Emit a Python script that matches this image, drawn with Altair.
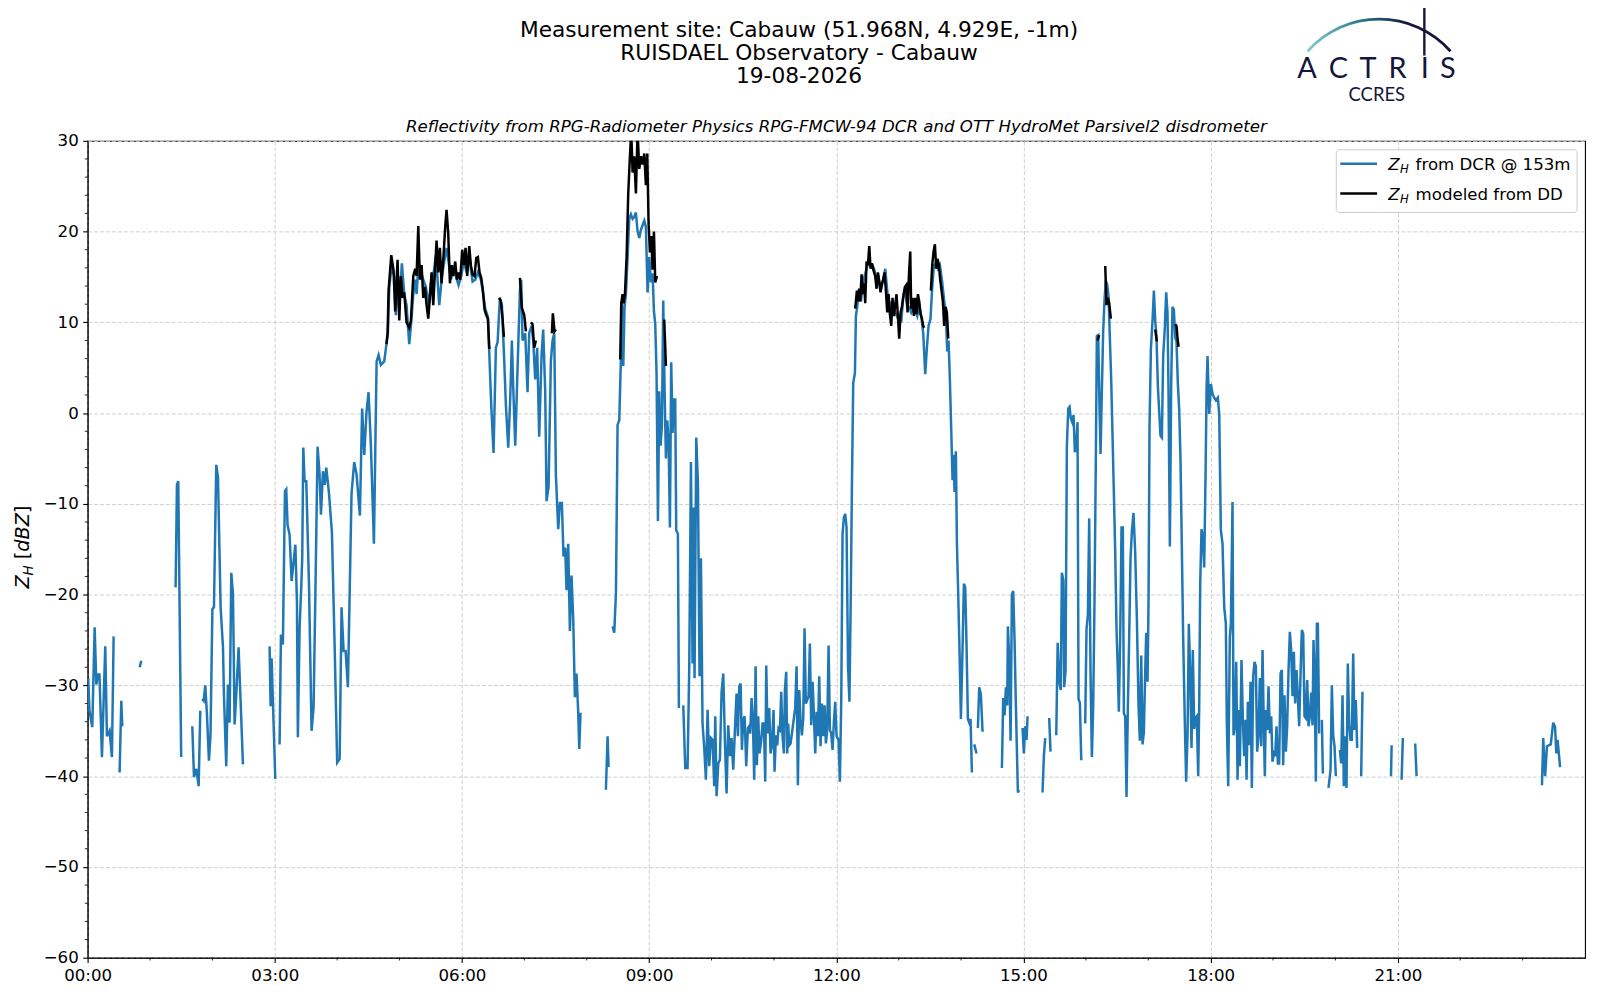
import altair as alt
import pandas as pd

# ---------------- data (hours since 00:00, reflectivity in dBZ) ----------------
# Z_H from DCR @ 153m : one list per continuous segment
dcr_hours = [
    [0.01, 0.03, 0.075, 0.113, 0.14, 0.166, 0.19, 0.23, 0.283, 0.31, 0.353, 0.39, 0.417],
    [0.513, 0.54, 0.556],
    [0.834, 0.86],
    [1.41, 1.432, 1.453, 1.50],
    [1.678, 1.705, 1.742, 1.78, 1.806],
    [1.838, 1.86, 1.886, 1.913, 1.945, 1.97, 2.0, 2.025, 2.062, 2.09, 2.132, 2.17, 2.185, 2.222, 2.249,
     2.276, 2.303, 2.33, 2.356, 2.383, 2.42, 2.49],
    [2.917, 2.933, 2.949, 3.008],
    [3.077, 3.099, 3.13, 3.163, 3.184, 3.205, 3.237, 3.27, 3.302, 3.33,
     3.355, 3.37, 3.398, 3.424, 3.44, 3.457, 3.478, 3.505, 3.547, 3.59,
     3.622, 3.654, 3.686, 3.718, 3.74, 3.772, 3.8, 3.825, 3.87, 3.916,
     3.96, 4.0, 4.04, 4.07, 4.103, 4.135, 4.172, 4.23, 4.273, 4.31,
     4.364, 4.4, 4.434, 4.47, 4.503, 4.54, 4.589, 4.632, 4.664, 4.7,
     4.754, 4.79, 4.813, 4.835, 4.872, 4.915, 4.94, 4.968, 4.995, 5.037,
     5.075, 5.112, 5.155, 5.182, 5.22, 5.251, 5.273, 5.305, 5.342, 5.38,
     5.422, 5.465, 5.502, 5.54, 5.582, 5.636, 5.679, 5.716, 5.753, 5.785,
     5.823, 5.86, 5.903, 5.946, 5.988, 6.031, 6.074, 6.117, 6.17, 6.213,
     6.255, 6.304, 6.341, 6.373, 6.416, 6.437, 6.469, 6.506, 6.544, 6.571,
     6.608, 6.64, 6.678, 6.704, 6.742, 6.774, 6.8, 6.822, 6.854, 6.891,
     6.929, 6.95, 6.971, 7.014, 7.051, 7.078, 7.116, 7.142, 7.174, 7.206,
     7.238, 7.276, 7.302, 7.334, 7.356, 7.388, 7.425, 7.452, 7.479, 7.506,
     7.543, 7.57, 7.601, 7.628, 7.655, 7.676, 7.703, 7.73, 7.756, 7.783,
     7.81, 7.836, 7.863, 7.88, 7.9],
    [8.307, 8.334, 8.35],
    [8.414, 8.441, 8.468, 8.494, 8.521, 8.548, 8.564, 8.585, 8.606, 8.628,
     8.655, 8.681, 8.708, 8.735, 8.761, 8.788, 8.815, 8.842, 8.868, 8.895,
     8.922, 8.948, 8.975, 9.002, 9.029, 9.055, 9.077, 9.098, 9.119, 9.141,
     9.162, 9.183, 9.205, 9.226, 9.248, 9.269, 9.29, 9.312, 9.333, 9.354,
     9.376, 9.397, 9.418, 9.434, 9.461, 9.477],
    [9.547, 9.579, 9.616, 9.643, 9.67, 9.696, 9.712, 9.728, 9.755, 9.782,
     9.808, 9.83, 9.856, 9.883, 9.91, 9.937, 9.963, 9.99, 10.017, 10.043,
     10.06, 10.081, 10.108, 10.134, 10.161, 10.188, 10.214, 10.241, 10.268, 10.295,
     10.321, 10.348, 10.375, 10.401, 10.423, 10.444, 10.466, 10.487, 10.508, 10.53,
     10.556, 10.583, 10.604, 10.62, 10.642, 10.663, 10.684, 10.706, 10.727, 10.748,
     10.77, 10.797, 10.818, 10.839, 10.861, 10.877, 10.898, 10.925, 10.946, 10.968,
     10.994, 11.01, 11.032, 11.053, 11.074, 11.096, 11.117, 11.138, 11.16, 11.176,
     11.197, 11.213, 11.229, 11.245, 11.267, 11.341, 11.363, 11.384, 11.406, 11.427,
     11.448, 11.47, 11.491, 11.512, 11.534, 11.555, 11.576, 11.598, 11.62, 11.641,
     11.662, 11.684, 11.705, 11.726, 11.747, 11.769, 11.79, 11.812, 11.833, 11.854,
     11.876, 11.897, 11.918, 11.94, 11.961, 11.982, 12.004, 12.036, 12.057, 12.079,
     12.1, 12.121, 12.143, 12.164, 12.188, 12.21, 12.232, 12.25, 12.271, 12.298,
     12.314, 12.335, 12.367, 12.394, 12.421, 12.453, 12.485, 12.517, 12.549, 12.581,
     12.613, 12.645, 12.677, 12.709, 12.741, 12.784, 12.816, 12.848, 12.88, 12.912,
     12.944, 12.976, 13.008, 13.04, 13.072, 13.104, 13.137, 13.169, 13.2, 13.233,
     13.265, 13.297, 13.329, 13.361, 13.393, 13.425, 13.452, 13.478, 13.51, 13.532,
     13.564, 13.596, 13.628, 13.66, 13.692, 13.724, 13.756, 13.778, 13.799, 13.82,
     13.842, 13.863, 13.879, 13.895, 13.916, 13.933, 13.954, 13.975, 13.997, 14.023,
     14.045, 14.066, 14.087, 14.109, 14.13, 14.151, 14.173],
    [14.21, 14.248],
    [14.269, 14.29, 14.317, 14.344],
    [14.654, 14.675, 14.697, 14.718, 14.739, 14.75, 14.771, 14.793, 14.814, 14.835, 14.857, 14.878, 14.91, 14.925],
    [14.985, 15.006, 15.027, 15.049, 15.065],
    [15.305, 15.327, 15.348],
    [15.412, 15.433],
    [15.525, 15.548, 15.572, 15.597, 15.615, 15.638, 15.652, 15.674, 15.695, 15.717,
     15.738, 15.759, 15.781, 15.802, 15.823, 15.845, 15.866, 15.882, 15.904, 15.925,
     15.946],
    [15.989, 16.01, 16.032, 16.053, 16.074, 16.096, 16.117, 16.138, 16.16, 16.176,
     16.197, 16.219, 16.235, 16.256, 16.277, 16.299, 16.32, 16.342, 16.363, 16.384,
     16.406, 16.427, 16.448, 16.47, 16.491, 16.512, 16.528, 16.55, 16.571, 16.592,
     16.609, 16.63, 16.651, 16.673, 16.694, 16.715, 16.737, 16.763, 16.79, 16.817,
     16.844, 16.865, 16.887, 16.908, 16.929, 16.951, 16.967, 16.988, 17.004, 17.02,
     17.042, 17.068, 17.09, 17.111, 17.132, 17.154, 17.175, 17.196, 17.218, 17.239,
     17.265, 17.287, 17.308, 17.324, 17.346, 17.367, 17.388, 17.41, 17.431, 17.452,
     17.474, 17.495, 17.517, 17.538, 17.559, 17.586, 17.607, 17.629, 17.65, 17.671,
     17.693, 17.714, 17.736, 17.757, 17.778, 17.8, 17.816, 17.832, 17.853, 17.875,
     17.896, 17.917, 17.935, 17.95, 17.976, 18.003, 18.03, 18.056, 18.083, 18.115,
     18.137, 18.163, 18.19, 18.217, 18.243, 18.259, 18.281, 18.307, 18.324, 18.35,
     18.366, 18.388, 18.409, 18.431, 18.446, 18.468, 18.494, 18.516, 18.537, 18.559,
     18.575, 18.596, 18.617, 18.639, 18.66, 18.681, 18.703, 18.724, 18.745, 18.767,
     18.788, 18.81, 18.831, 18.852, 18.868, 18.884, 18.906, 18.927, 18.949, 18.97,
     18.991, 19.013, 19.034, 19.055, 19.077, 19.098, 19.12, 19.141, 19.162, 19.183,
     19.205, 19.226, 19.248, 19.269, 19.29, 19.312, 19.333, 19.354, 19.376, 19.397,
     19.418, 19.445, 19.461, 19.483, 19.504, 19.525, 19.547, 19.568, 19.589, 19.611,
     19.632, 19.648, 19.664, 19.686, 19.702, 19.718, 19.739],
    [19.782, 19.798],
    [19.889, 19.921, 19.942, 19.964, 19.985, 20.006],
    [20.07, 20.092, 20.113, 20.134, 20.156, 20.177, 20.198, 20.22, 20.241, 20.262, 20.284, 20.305, 20.326, 20.348],
    [20.412, 20.433],
    [20.89, 20.9],
    [21.06, 21.08],
    [21.278, 21.3],
    [23.31, 23.33, 23.36, 23.39, 23.45, 23.49, 23.52, 23.54, 23.56, 23.6],
]
dcr_dbz = [
    [-29.2, -32.8, -34.6, -23.6, -29.9, -28.8, -28.8, -37.9, -25.7, -35.6, -35.0, -37.9, -24.6],
    [-39.6, -31.7, -34.5],
    [-28.0, -27.3],
    [-19.2, -7.9, -7.5, -37.9],
    [-34.5, -40.1, -39.2, -41.1, -32.8],
    [-31.5, -31.7, -30.0, -33.2, -38.3, -35.4, -21.6, -21.4, -5.7, -7.1, -21.4, -25.8, -31.0, -38.9, -29.9,
     -34.1, -17.6, -20.0, -34.3, -31.0, -25.8, -38.7],
    [-25.7, -32.3, -27.0, -40.3],
    [-36.5, -24.4, -25.5, -8.6, -8.4, -12.3, -13.4, -18.5, -16.3, -14.5,
     -20.7, -35.7, -23.6, -19.2, -15.9, -3.8, -7.5, -7.5, -18.5, -35.0,
     -32.4, -18.5, -3.7, -6.8, -11.2, -6.4, -7.9, -6.0, -8.9, -13.2,
     -25.8, -38.5, -38.1, -21.4, -26.2, -26.2, -30.2, -8.9, -5.4, -6.7,
     -11.3, 0.5, -4.6, 0.1, 2.3, -3.4, -14.4, 5.7, 6.4, 5.3,
     5.7, 7.6, 8.8, 13.9, 16.1, 15.1, 10.8, 14.3, 11.5, 16.5,
     13.1, 11.9, 7.6, 9.6, 13.1, 14.7, 13.1, 16.7, 15.5, 14.7,
     13.9, 11.9, 14.3, 15.1, 17.4, 11.9, 15.1, 16.7, 18.2, 16.7,
     14.7, 15.9, 15.1, 14.1, 15.1, 16.7, 15.5, 17.1, 14.5, 14.7,
     15.5, 14.7, 13.1, 11.5, 10.6, 6.8, 0.9, -4.4, 7.2, 7.8,
     12.7, 11.9, 5.7, 0.9, -3.8, 1.7, 8.0, 2.8, -3.6, 4.9,
     13.5, 14.7, 8.0, 8.8, 2.3, 8.8, 9.6, 8.0, 3.7, 7.2,
     -2.6, 6.4, 9.2, 2.5, -9.7, -8.1, 5.7, 8.0, 8.8, -6.9,
     -12.8, -9.9, -9.9, -15.8, -14.8, -19.5, -14.4, -24.0, -17.9, -22.6,
     -31.3, -28.7, -32.9, -37.0, -33.0],
    [-41.5, -35.6, -39.0],
    [-23.5, -24.2, -19.8, -1.3, -0.8, 6.1, 12.1, 5.2, 11.7, 13.1,
     17.2, 21.4, 21.9, 21.4, 21.6, 22.1, 20.0, 19.3, 20.2, 20.7,
     21.2, 20.5, 13.3, 17.2, 14.4, 15.4, 11.2, 9.8, 4.3, -11.9,
     2.4, -3.6, -1.3, 12.4, 2.4, -5.0, -0.8, -3.1, -12.6, 5.6,
     -2.2, 1.5, 1.5, -12.9, -13.3, -32.5],
    [-32.2, -39.1, -39.1, -27.9, -5.4, -27.6, -10.4, -29.2, -2.7, -7.8,
     -29.0, -16.0, -34.2, -36.9, -40.4, -32.7, -38.9, -35.8, -36.0, -41.1,
     -33.4, -42.2, -38.6, -38.2, -30.7, -28.7, -36.0, -41.9, -34.4, -37.8,
     -35.8, -39.3, -34.9, -30.9, -35.6, -30.1, -29.8, -37.1, -33.8, -33.4,
     -38.9, -34.7, -34.5, -35.3, -31.4, -33.8, -40.4, -27.9, -38.8, -33.4,
     -37.5, -36.0, -34.2, -34.2, -40.6, -27.8, -35.3, -32.5, -37.5, -36.6,
     -32.7, -39.5, -35.5, -36.6, -34.7, -34.9, -30.7, -35.6, -37.5, -30.5,
     -28.5, -37.5, -34.2, -36.6, -36.4, -32.5, -27.9, -41.0, -30.5, -33.8,
     -35.5, -33.6, -23.7, -32.0, -31.6, -31.2, -25.4, -34.4, -29.6, -33.3,
     -37.5, -32.9, -35.6, -29.0, -36.7, -32.0, -35.6, -32.2, -36.4, -34.9,
     -25.6, -34.9, -35.3, -37.1, -34.0, -31.8, -35.6, -36.0, -40.6, -31.6,
     -13.3, -11.5, -11.1, -12.6, -27.9, -31.8, -20.0, -8.0, 3.3, 4.4,
     10.7, 11.7, 13.7, 12.3, 13.9, 15.1, 15.9, 16.7, 16.3, 16.3,
     15.7, 14.3, 14.9, 13.5, 14.3, 15.9, 13.5, 11.5, 12.3, 11.1,
     11.1, 10.6, 10.7, 10.0, 12.7, 13.5, 11.7, 11.7, 11.1, 11.7,
     11.3, 10.7, 11.9, 10.7, 8.8, 4.3, 7.2, 9.6, 10.4, 13.3,
     16.3, 16.5, 15.9, 16.3, 14.7, 12.7, 10.7, 6.8, 8.0, 3.7,
     -1.9, -7.4, -4.6, -8.7, -4.2, -14.4, -20.0, -26.3, -33.7, -25.9,
     -18.8, -19.2, -25.5, -33.7, -34.1, -33.7, -39.6],
    [-36.5, -37.5],
    [-34.7, -30.2, -31.0, -35.1],
    [-39.1, -31.4, -33.3, -30.2, -32.2, -23.5, -27.0, -36.1, -20.0, -19.6, -25.1, -32.2, -41.8, -41.5],
    [-34.7, -37.5, -34.5, -36.0, -33.4],
    [-41.8, -37.7, -35.8],
    [-33.6, -37.3],
    [-35.5, -25.3, -29.5, -30.5, -17.6, -18.4, -30.2, -28.4, -3.7, 0.5,
     0.7, -0.6, -1.0, -0.2, -4.3, -3.7, -1.0, -31.5, -31.9, -38.1,
     -38.1],
    [-34.2, -23.8, -22.2, -11.6, -28.4, -37.9, -32.3, -20.7, -4.5, 8.5,
     8.6, 0.5, -4.5, 2.5, 9.0, 12.5, 14.6, 14.1, 12.9, 8.3,
     3.6, -2.5, -8.7, -15.3, -23.8, -28.4, -32.9, -24.6, -12.6, -12.6,
     -33.1, -33.4, -42.3, -32.3, -24.6, -16.1, -13.0, -11.0, -15.3, -22.6,
     -32.3, -36.1, -26.7, -36.5, -35.2, -28.4, -24.2, -29.6, -20.7, -1.4,
     7.1, 10.2, 13.5, 10.2, 8.3, 2.9, 0.2, -2.5, -2.7, 6.3,
     9.4, 13.3, 11.0, 2.5, -14.7, 3.2, 11.7, 11.4, 8.3, 7.9,
     3.2, 0.5, -5.3, -14.9, -24.6, -34.2, -40.6, -35.4, -23.2, -28.4,
     -36.9, -26.1, -34.8, -33.6, -33.4, -40.0, -32.3, -18.8, -12.8, -13.7,
     -17.0, -7.2, 3.0, 6.3, -0.1, 3.2, 2.1, 1.7, 1.4, 1.7,
     -0.1, -12.9, -14.4, -21.4, -23.2, -34.2, -41.1, -24.7, -23.2, -9.8,
     -35.5, -34.5, -27.4, -40.4, -32.7, -38.9, -27.2, -33.8, -37.8, -33.8,
     -40.4, -31.8, -36.6, -29.6, -41.3, -29.0, -27.4, -27.9, -37.3, -35.5,
     -29.2, -36.7, -26.1, -34.7, -40.0, -32.7, -34.9, -30.1, -35.3, -33.4,
     -38.4, -37.5, -37.8, -34.5, -38.6, -38.6, -28.7, -28.3, -38.8, -31.1,
     -37.3, -34.5, -28.3, -24.1, -26.1, -31.2, -26.3, -32.0, -28.3, -31.2,
     -34.5, -27.6, -23.9, -24.3, -33.4, -33.6, -29.4, -34.5, -33.4, -30.8,
     -34.4, -25.0, -28.3, -40.6, -23.2, -23.2, -35.3],
    [-33.8, -39.7],
    [-41.3, -39.3, -30.0, -35.6, -36.7, -40.0],
    [-37.1, -38.6, -31.1, -41.1, -35.6, -41.3, -27.6, -34.2, -36.0, -36.0, -26.5, -34.9, -31.6, -36.9],
    [-40.0, -30.7],
    [-40.0, -36.6],
    [-40.4, -35.8],
    [-36.4, -40.0],
    [-41.0, -35.8, -40.0, -36.7, -36.5, -34.1, -34.6, -37.5, -36.0, -39.0],
]

# Z_H modeled from disdrometer data
dd_hours = [
    [4.79, 4.808, 4.824, 4.867, 4.904, 4.93, 4.968, 4.995, 5.021, 5.048,
     5.075, 5.112, 5.155, 5.182, 5.22, 5.251, 5.273, 5.3, 5.326, 5.353,
     5.38, 5.406, 5.433, 5.46, 5.486, 5.513, 5.54, 5.566, 5.593, 5.62,
     5.646, 5.673, 5.705, 5.732, 5.753, 5.78, 5.807, 5.834, 5.86, 5.892,
     5.919, 5.946, 5.972, 6.004, 6.031, 6.058, 6.084, 6.117, 6.143, 6.17,
     6.202, 6.229, 6.255, 6.282, 6.309, 6.336, 6.362, 6.389, 6.416, 6.437, 6.458],
    [6.597, 6.624, 6.651, 6.672],
    [6.929, 6.96, 6.998, 7.025],
    [7.105, 7.132, 7.158, 7.185],
    [7.441, 7.457, 7.484, 7.506],
    [8.537, 8.553, 8.574, 8.59, 8.612, 8.639, 8.665, 8.692, 8.713, 8.735,
     8.761, 8.788, 8.815, 8.842, 8.868, 8.895, 8.922, 8.948, 8.97, 8.991,
     9.013, 9.034, 9.055, 9.077, 9.098, 9.125],
    [9.242, 9.269],
    [12.303, 12.33, 12.351, 12.367, 12.383, 12.405, 12.426, 12.447, 12.463, 12.485,
     12.506, 12.528, 12.549, 12.57, 12.597, 12.624, 12.645, 12.666, 12.688, 12.709,
     12.731, 12.752, 12.773, 12.795, 12.816, 12.837, 12.859, 12.88, 12.901, 12.923,
     12.944, 12.965, 12.987, 13.008, 13.03, 13.051, 13.078, 13.099, 13.12, 13.142,
     13.163, 13.185, 13.2, 13.222, 13.243, 13.265, 13.286, 13.308, 13.329, 13.35,
     13.372, 13.393, 13.409],
    [13.516, 13.537, 13.559, 13.58, 13.601, 13.622, 13.644, 13.665, 13.687, 13.708,
     13.729, 13.751, 13.772, 13.794],
    [16.187, 16.213],
    [16.31, 16.331, 16.352, 16.374, 16.4],
    [17.111, 17.137],
    [17.431, 17.452, 17.468, 17.485],
]
dd_dbz = [
    [7.6, 8.8, 13.5, 17.4, 15.7, 11.2, 16.9, 10.2, 15.1, 12.7,
     13.3, 10.0, 9.4, 10.2, 15.1, 15.9, 15.1, 20.6, 14.7, 16.3,
     12.7, 13.9, 11.9, 10.4, 12.7, 15.5, 11.9, 15.5, 19.0, 15.5,
     18.2, 14.3, 17.4, 20.6, 22.4, 19.8, 14.3, 16.3, 15.1, 16.7,
     14.7, 15.5, 14.7, 18.0, 16.3, 18.2, 15.1, 18.4, 16.3, 15.3,
     15.1, 17.1, 17.2, 15.5, 14.9, 13.5, 11.4, 10.8, 10.4, 7.2, 7.2],
    [12.7, 12.3, 10.4, 8.4],
    [14.9, 11.6, 10.8, 9.0],
    [10.0, 9.8, 7.2, 8.0],
    [8.8, 11.0, 9.0, 9.2],
    [5.9, 12.1, 13.1, 12.1, 13.1, 17.2, 24.2, 28.3, 31.0, 26.5,
     28.3, 24.2, 31.0, 26.9, 28.3, 27.4, 28.6, 25.1, 28.6, 20.9,
     17.7, 19.5, 15.8, 20.0, 14.4, 15.1],
    [10.3, 5.2],
    [11.5, 13.5, 12.3, 13.7, 12.3, 15.3, 13.1, 14.3, 12.1, 16.7,
     16.3, 18.4, 15.9, 16.5, 15.7, 15.1, 13.7, 15.5, 14.5, 13.3,
     14.3, 14.7, 15.5, 13.5, 11.1, 13.1, 10.9, 9.6, 12.7, 10.7,
     11.9, 13.1, 10.7, 8.2, 11.1, 11.7, 13.1, 13.9, 14.1, 11.1,
     15.1, 17.8, 11.5, 12.7, 10.7, 12.7, 10.9, 13.1, 12.3, 10.9,
     10.4, 9.6, 9.4],
    [13.5, 16.3, 17.8, 18.6, 15.9, 17.0, 16.3, 14.7, 13.5, 12.3,
     9.6, 11.7, 11.1, 8.2],
    [8.0, 8.6],
    [16.2, 11.9, 12.7, 12.1, 10.4],
    [9.2, 7.9],
    [9.8, 9.6, 8.3, 7.3],
]

major_hours = [0, 3, 6, 9, 12, 15, 18, 21]
minor_hours = [1, 2, 4, 5, 7, 8, 10, 11, 13, 14, 16, 17, 19, 20, 22, 23]
major_dbz = [-60, -50, -40, -30, -20, -10, 0, 10, 20, 30]
minor_dbz = [-58, -56, -54, -52, -48, -46, -44, -42, -38, -36, -34, -32, -28, -26, -24, -22,
             -18, -16, -14, -12, -8, -6, -4, -2, 2, 4, 6, 8, 12, 14, 16, 18, 22, 24, 26, 28]

title_lines = ["Measurement site: Cabauw (51.968N, 4.929E, -1m)",
               "RUISDAEL Observatory - Cabauw",
               "19-08-2026"]
subtitle = "Reflectivity from RPG-Radiometer Physics RPG-FMCW-94 DCR and OTT HydroMet Parsivel2 disdrometer"
legend_texts = ["from DCR @ 153m", "modeled from DD"]
logo_letters = ["A", "C", "T", "R", "I", "S"]

# ---------------- build ----------------
FONT = "DejaVu Sans"
W, H = 1505, 821
BLUE = "#1f77b4"
NAVY = "#14163d"
LW = 2.5


def frame(hours, dbz, name):
    rows = []
    for i, (hs, zs) in enumerate(zip(hours, dbz)):
        for h, z in zip(hs, zs):
            rows.append({"hour": h, "zh": z, "seg": f"{name}{i}"})
    return pd.DataFrame(rows)


dcr_df = frame(dcr_hours, dcr_dbz, "dcr")
dd_df = frame(dd_hours, dd_dbz, "dd")
one = pd.DataFrame({"k": [0]})

xscale = alt.Scale(domain=[0, 24], nice=False, zero=False)
yscale = alt.Scale(domain=[-60, 30], nice=False, zero=False)
common_axis = dict(grid=True, gridDash=[4, 2], gridColor="#d0d0d0", gridWidth=1,
                   tickSize=4.9, tickWidth=1.1, tickColor="black",
                   domainColor="black", domainWidth=1.1,
                   labelFont=FONT, labelFontSize=16.7, labelColor="black",
                   labelFlush=False, labelOverlap=False, title=None)
xaxis = alt.Axis(values=major_hours, labelPadding=5.5,
                 labelExpr="(datum.value < 10 ? '0' : '') + datum.value + ':00'",
                 **common_axis)
yaxis = alt.Axis(values=major_dbz, labelPadding=4.5,
                 labelExpr="replace(format(datum.value, 'd'), '-', '\u2212')",
                 **common_axis)
X = alt.X("hour:Q", scale=xscale, axis=xaxis)
Y = alt.Y("zh:Q", scale=yscale, axis=yaxis)

blue = alt.Chart(dcr_df).mark_line(color=BLUE, strokeWidth=LW, clip=True).encode(
    x=X, y=Y, detail="seg:N")
black = alt.Chart(dd_df).mark_line(color="black", strokeWidth=LW, clip=True).encode(
    x=X, y=Y, detail="seg:N")

minor_x = alt.Chart(pd.DataFrame({"hour": minor_hours})).mark_rule(
    color="black", strokeWidth=0.85).encode(x=X, y=alt.value(H), y2=alt.value(H + 2.8))
minor_y = alt.Chart(pd.DataFrame({"zh": minor_dbz})).mark_rule(
    color="black", strokeWidth=0.85).encode(y=Y, x=alt.value(0), x2=alt.value(-2.8))


def txt(text, x, y, size, font=FONT, color="black", align="center",
        baseline="middle", style="normal", angle=0, weight="normal"):
    return alt.Chart(one).mark_text(
        text=text, fontSize=size, font=font, color=color, align=align,
        baseline=baseline, fontStyle=style, angle=angle, fontWeight=weight
    ).encode(x=alt.value(x), y=alt.value(y))


layers = [blue, black, minor_x, minor_y]

# legend box
LX = 7
layers.append(alt.Chart(one).mark_rect(fill="white", fillOpacity=0.8, stroke="#cccccc",
                                       strokeWidth=1, cornerRadius=3).encode(
    x=alt.value(1248 + LX), x2=alt.value(1490 + LX), y=alt.value(9), y2=alt.value(72)))
for i, (col, lab) in enumerate(zip([BLUE, "black"], legend_texts)):
    yl = 23 + 30 * i
    layers.append(alt.Chart(one).mark_rule(color=col, strokeWidth=LW).encode(
        x=alt.value(1252 + LX), x2=alt.value(1289 + LX), y=alt.value(yl)))
    layers.append(txt("Z", 1300.3 + LX, yl + 6.7, 16.7, align="left", baseline="alphabetic", style="italic"))
    layers.append(txt("H", 1312 + LX, yl + 9.3, 11.7, align="left", baseline="alphabetic", style="italic"))
    layers.append(txt(lab, 1327.7 + LX, yl + 6.7, 16.7, align="left", baseline="alphabetic"))

# titles
for i, line in enumerate(title_lines):
    layers.append(txt(line, 715, -111 + 23 * i, 21.8))
layers.append(txt(subtitle, W / 2, -14.3, 16.7, style="italic"))

# y axis title  Z_H [dBZ]
layers.append(txt("Z", -59, 450, 19.4, align="left", baseline="alphabetic", style="italic", angle=270))
layers.append(txt("H", -55, 437, 13.6, align="left", baseline="alphabetic", style="italic", angle=270))
layers.append(txt("[", -59, 420.5, 19.4, align="left", baseline="alphabetic", angle=270))
layers.append(txt("dBZ", -59, 412.9, 19.4, align="left", baseline="alphabetic", style="italic", angle=270))
layers.append(txt("]", -59, 374, 19.4, align="left", baseline="alphabetic", angle=270))

# logo
grad = alt.LinearGradient(gradient="linear",
                          stops=[alt.GradientStop(color="#86cfc9", offset=0),
                                 alt.GradientStop(color="#2f7f8f", offset=0.35),
                                 alt.GradientStop(color=NAVY, offset=0.7),
                                 alt.GradientStop(color=NAVY, offset=1)],
                          x1=0, x2=1, y1=0, y2=0)
layers.append(alt.Chart(one).mark_arc(radius=97.2, radius2=94.4, theta=5.436, theta2=7.13,
                                      color=grad).encode(x=alt.value(1298), y=alt.value(-26.6)))
layers.append(alt.Chart(one).mark_rule(color=NAVY, strokeWidth=2.4).encode(
    x=alt.value(1343.5), y=alt.value(-136.3), y2=alt.value(-85.7)))
for letter, lx in zip(logo_letters, [1225.5, 1257, 1287, 1316.5, 1344, 1367]):
    layers.append(txt(letter, lx, -62.7, 29, font="Lato", color=NAVY, baseline="alphabetic"))
layers.append(txt("CCRES", 1295.7, -40.2, 18.5, font="Lato", color=NAVY, baseline="alphabetic"))

chart = alt.layer(*layers).properties(
    width=W, height=H,
    autosize=alt.AutoSizeParams(type="none"),
    padding={"left": 80, "top": 131, "right": 7, "bottom": 32},
    background="white",
).configure_view(stroke="black", strokeWidth=1.1)

chart.save("out.html", embed_options={"renderer": "svg", "actions": False})
